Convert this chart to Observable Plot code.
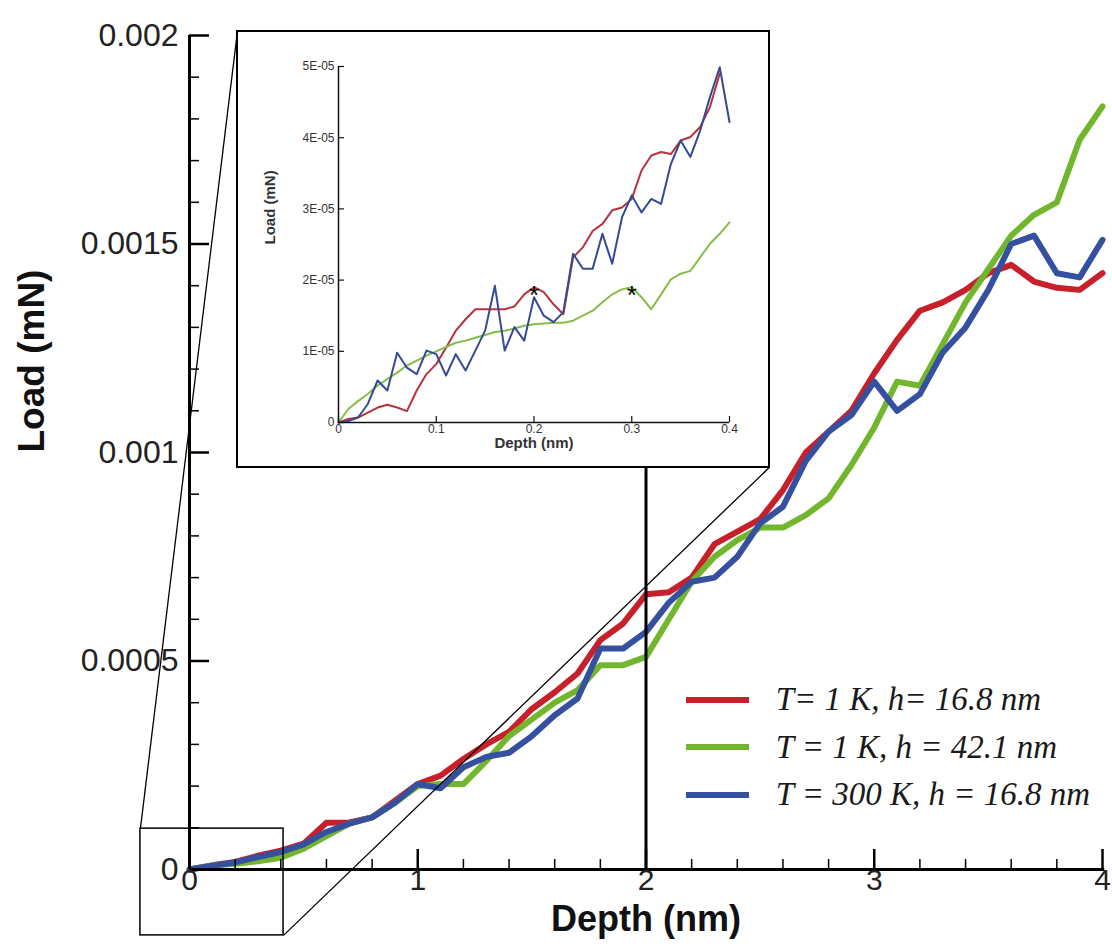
<!DOCTYPE html>
<html><head><meta charset="utf-8">
<script src="https://cdn.jsdelivr.net/npm/d3@7"></script>
<script src="https://cdn.jsdelivr.net/npm/@observablehq/plot@0.6"></script>
<style>
html,body{margin:0;padding:0;background:#fff;}
#wrap{position:relative;width:1112px;height:948px;overflow:hidden;background:#fff;}
#wrap svg{position:absolute;}
.legend{position:absolute;font-family:"Liberation Serif","Times New Roman",serif;font-style:italic;font-size:33px;color:#1a1a1a;}
.row{display:flex;align-items:center;height:47.5px;white-space:nowrap;}
.sw{display:inline-block;width:63px;height:6px;margin-right:27px;}
</style></head><body><div id="wrap"></div>
<script>
// ---------- main chart data ----------
const depth = [0,0.1,0.2,0.3,0.4,0.5,0.6,0.7,0.8,0.9,1.0,1.1,1.2,1.3,1.4,1.5,1.6,1.7,1.8,1.9,2.0,2.1,2.2,2.3,2.4,2.5,2.6,2.7,2.8,2.9,3.0,3.1,3.2,3.3,3.4,3.5,3.6,3.7,3.8,3.9,4.0];
const loadRed = [0,0.00001,0.000018,0.000033,0.000045,0.000062,0.000112,0.000113,0.000125,0.000165,0.000205,0.000225,0.000265,0.0003,0.00033,0.000385,0.000425,0.00047,0.00055,0.00059,0.00066,0.000665,0.0007,0.00078,0.00081,0.00084,0.00091,0.001,0.00105,0.0011,0.00119,0.00127,0.00134,0.00136,0.00139,0.00143,0.00145,0.00141,0.001395,0.00139,0.00143];
const loadGreen = [0,0.00001,0.000014,0.00002,0.000028,0.00005,0.00008,0.00011,0.000125,0.00016,0.0002,0.000205,0.000205,0.00026,0.00032,0.00036,0.0004,0.00043,0.00049,0.00049,0.00051,0.0006,0.00069,0.00075,0.00079,0.00082,0.00082,0.00085,0.00089,0.00097,0.00106,0.00117,0.00116,0.00126,0.00136,0.00144,0.00152,0.00157,0.0016,0.00175,0.00183];
const loadBlue = [0,0.000009,0.000017,0.00003,0.000042,0.00006,0.00009,0.00011,0.000125,0.00016,0.000205,0.000195,0.000245,0.00027,0.00028,0.00032,0.00037,0.00041,0.00053,0.00053,0.00057,0.00064,0.00069,0.0007,0.00075,0.00083,0.00087,0.00098,0.00105,0.00109,0.00117,0.0011,0.00114,0.00124,0.0013,0.00139,0.0015,0.00152,0.00143,0.00142,0.00151];
const seriesNames = ["T= 1 K, h= 16.8 nm","T = 1 K, h = 42.1 nm","T = 300 K, h = 16.8 nm"];

const mainXTicks = [0,1,2,3,4];
const mainXLabels = ["0","1","2","3","4"];
const mainXMinor = [0.2,0.4,0.6,0.8,1.2,1.4,1.6,1.8,2.2,2.4,2.6,2.8,3.2,3.4,3.6,3.8];
const mainYTicks = [0,0.0005,0.001,0.0015,0.002];
const mainYLabels = ["0","0.0005","0.001","0.0015","0.002"];
const mainYMinor = [0.0001,0.0002,0.0003,0.0004,0.0006,0.0007,0.0008,0.0009,0.0011,0.0012,0.0013,0.0014,0.0016,0.0017,0.0018,0.0019];

// zoom annotation (main-chart data coordinates)
const zoomBox = [{x1:-0.215,x2:0.412,y1:0.000098,y2:-0.000158}];
const insetBox = {x1:0.21,x2:2.54,y1:0.000964,y2:0.00201};
const connectors = [
  {x1:-0.215,y1:0.000098,x2:0.21,y2:0.00201},
  {x1:0.412,y1:-0.000158,x2:2.54,y2:0.000964}
];
const markerDepth = [2];

// ---------- inset data ----------
const insetDepth = [0,0.01,0.02,0.03,0.04,0.05,0.06,0.07,0.08,0.09,0.1,0.11,0.12,0.13,0.14,0.15,0.16,0.17,0.18,0.19,0.2,0.21,0.22,0.23,0.24,0.25,0.26,0.27,0.28,0.29,0.3,0.31,0.32,0.33,0.34,0.35,0.36,0.37,0.38,0.39,0.4];
const insetRed = [0,0.05e-5,0.07e-5,0.14e-5,0.21e-5,0.25e-5,0.21e-5,0.16e-5,0.45e-5,0.68e-5,0.82e-5,1.05e-5,1.29e-5,1.45e-5,1.59e-5,1.59e-5,1.59e-5,1.59e-5,1.63e-5,1.80e-5,1.90e-5,1.83e-5,1.66e-5,1.52e-5,2.32e-5,2.46e-5,2.69e-5,2.79e-5,2.98e-5,3.02e-5,3.14e-5,3.54e-5,3.75e-5,3.80e-5,3.77e-5,3.96e-5,4.01e-5,4.15e-5,4.43e-5,4.9e-5];
const insetGreen = [0,0.19e-5,0.30e-5,0.40e-5,0.52e-5,0.61e-5,0.70e-5,0.80e-5,0.87e-5,0.94e-5,1.00e-5,1.06e-5,1.12e-5,1.15e-5,1.19e-5,1.23e-5,1.27e-5,1.29e-5,1.32e-5,1.36e-5,1.38e-5,1.39e-5,1.40e-5,1.40e-5,1.43e-5,1.50e-5,1.57e-5,1.69e-5,1.80e-5,1.87e-5,1.90e-5,1.76e-5,1.59e-5,1.80e-5,2.01e-5,2.09e-5,2.13e-5,2.32e-5,2.51e-5,2.65e-5,2.81e-5];
const insetBlue = [0,0.02e-5,0.07e-5,0.26e-5,0.59e-5,0.45e-5,0.98e-5,0.77e-5,0.68e-5,1.01e-5,0.96e-5,0.66e-5,0.96e-5,0.73e-5,1.01e-5,1.29e-5,1.92e-5,1.01e-5,1.34e-5,1.15e-5,1.76e-5,1.50e-5,1.41e-5,1.55e-5,2.37e-5,2.16e-5,2.16e-5,2.65e-5,2.23e-5,2.88e-5,3.19e-5,2.95e-5,3.14e-5,3.07e-5,3.63e-5,3.96e-5,3.73e-5,4.10e-5,4.57e-5,4.99e-5,4.22e-5];
const insetXTicks = [0,0.1,0.2,0.3,0.4];
const insetXLabels = ["0","0.1","0.2","0.3","0.4"];
const insetYTicks = [0,1e-5,2e-5,3e-5,4e-5,5e-5];
const insetYLabels = ["0","1E-05","2E-05","3E-05","4E-05","5E-05"];
const asterisks = [{d:0.2,l:1.9e-5},{d:0.3,l:1.9e-5}];

// ---------- styles ----------
const mainColors = ["#c8202a","#72b62e","#34509f"];
const insetColors = ["#b8323c","#86bd4a","#354a96"];

const rows = (xs, ys) => ys.map((y,i)=>({x:xs[i], y}));
const lbl = (vs, ls) => vs.map((v,i)=>({v, t:ls[i]}));

const W=1112, H=948, mL=189, mR=10, mT=35, mB=79;
const pw = W-mL-mR, ph = H-mT-mB;
const sansFont = "'Liberation Sans', Arial, sans-serif";

const main = Plot.plot({
  width:W, height:H, marginLeft:mL, marginRight:mR, marginTop:mT, marginBottom:mB,
  x:{domain:[0,4], axis:null},
  y:{domain:[0,0.002], axis:null},
  style:{background:"transparent", fontFamily:sansFont, overflow:"visible"},
  marks:[
    Plot.line(rows(depth, loadRed), {x:"x", y:"y", stroke:mainColors[0], strokeWidth:6, strokeLinejoin:"round"}),
    Plot.line(rows(depth, loadGreen), {x:"x", y:"y", stroke:mainColors[1], strokeWidth:6, strokeLinejoin:"round"}),
    Plot.line(rows(depth, loadBlue), {x:"x", y:"y", stroke:mainColors[2], strokeWidth:6, strokeLinejoin:"round"}),
    Plot.ruleX([0], {y1:0, y2:0.002, stroke:"black", strokeWidth:3}),
    Plot.ruleY([0], {x1:0, x2:4.01, stroke:"black", strokeWidth:3}),
    Plot.tickY(mainYTicks, {y:d=>d, insetRight:pw-20, stroke:"black", strokeWidth:2.5}),
    Plot.tickY(mainYMinor, {y:d=>d, insetRight:pw-10, stroke:"black", strokeWidth:1.5}),
    Plot.tickX(mainXTicks, {x:d=>d, insetTop:ph-20, stroke:"black", strokeWidth:2.5}),
    Plot.tickX(mainXMinor, {x:d=>d, insetTop:ph-10, stroke:"black", strokeWidth:1.5}),
    Plot.text(lbl(mainXTicks, mainXLabels), {x:"v", text:"t", frameAnchor:"bottom", dy:20, fontSize:30, fill:"#222"}),
    Plot.text(lbl(mainYTicks, mainYLabels), {y:"v", text:"t", frameAnchor:"left", dx:-11, textAnchor:"end", fontSize:32, fill:"#222"}),
    Plot.text(["Depth (nm)"], {frameAnchor:"bottom", dy:61, fontSize:36, fontWeight:"bold", fill:"#111"}),
    Plot.text(["Load (mN)"], {frameAnchor:"left", dx:-157, rotate:-90, fontSize:37, fontWeight:"bold", fill:"#111"}),
    Plot.rect(zoomBox, {x1:"x1", x2:"x2", y1:"y1", y2:"y2", fill:"none", stroke:"black", strokeWidth:1.5}),
    Plot.link(connectors, {x1:"x1", y1:"y1", x2:"x2", y2:"y2", stroke:"black", strokeWidth:1.3}),
    Plot.ruleX(markerDepth, {y1:0, y2:insetBox.y1, stroke:"black", strokeWidth:3})
  ]
});
const wrap = document.getElementById("wrap");
main.style.left = "0px"; main.style.top = "0px";
wrap.appendChild(main);

// ---------- inset ----------
const sx = main.scale("x"), sy = main.scale("y");
const iLeft = sx.apply(insetBox.x1), iRight = sx.apply(insetBox.x2);
const iTop = sy.apply(insetBox.y2), iBottom = sy.apply(insetBox.y1);
const iW = Math.round(iRight - iLeft), iH = Math.round(iBottom - iTop);
const iml=101, imr=40, imt=35, imb=45;
const ipw = iW-iml-imr, iph = iH-imt-imb;

const inset = Plot.plot({
  width:iW, height:iH, marginLeft:iml, marginRight:imr, marginTop:imt, marginBottom:imb,
  x:{domain:[0,0.4], axis:null},
  y:{domain:[0,5e-5], axis:null},
  style:{background:"white", fontFamily:sansFont, overflow:"visible"},
  marks:[
    Plot.line(rows(insetDepth, insetRed), {x:"x", y:"y", stroke:insetColors[0], strokeWidth:2}),
    Plot.line(rows(insetDepth, insetGreen), {x:"x", y:"y", stroke:insetColors[1], strokeWidth:2}),
    Plot.line(rows(insetDepth, insetBlue), {x:"x", y:"y", stroke:insetColors[2], strokeWidth:2}),
    Plot.ruleX([0], {y1:0, y2:5e-5, stroke:"#111", strokeWidth:1.5}),
    Plot.ruleY([0], {x1:0, x2:0.4, stroke:"#111", strokeWidth:1.5}),
    Plot.tickY(insetYTicks, {y:d=>d, insetRight:ipw-6, stroke:"#111", strokeWidth:1.2}),
    Plot.tickX(insetXTicks, {x:d=>d, insetTop:iph-6, stroke:"#111", strokeWidth:1.2}),
    Plot.text(lbl(insetXTicks, insetXLabels), {x:"v", text:"t", frameAnchor:"bottom", dy:10, fontSize:12, fill:"#333"}),
    Plot.text(lbl(insetYTicks, insetYLabels), {y:"v", text:"t", frameAnchor:"left", dx:-4, textAnchor:"end", fontSize:12, fill:"#333"}),
    Plot.text(["Depth (nm)"], {frameAnchor:"bottom", dy:25, fontSize:15, fontWeight:"bold", fill:"#333"}),
    Plot.text(["Load (mN)"], {frameAnchor:"left", dx:-68, rotate:-90, fontSize:15, fontWeight:"bold", fill:"#333"}),
    Plot.text(asterisks, {x:"d", y:"l", text:()=>"*", fontSize:26, dy:8, fill:"black"})
  ]
});
inset.style.left = iLeft + "px";
inset.style.top = iTop + "px";
inset.style.outline = "2px solid #000";
inset.style.outlineOffset = "-1px";
wrap.appendChild(inset);

// ---------- legend ----------
const leg = document.createElement("div");
leg.className = "legend";
leg.style.left = sx.apply(2.176) + "px";
leg.style.top = "676px";
seriesNames.forEach((n,i)=>{
  const r = document.createElement("div"); r.className="row";
  const s = document.createElement("span"); s.className="sw"; s.style.background = mainColors[i];
  const t = document.createElement("span"); t.textContent = n;
  r.appendChild(s); r.appendChild(t); leg.appendChild(r);
});
wrap.appendChild(leg);
</script></body></html>
